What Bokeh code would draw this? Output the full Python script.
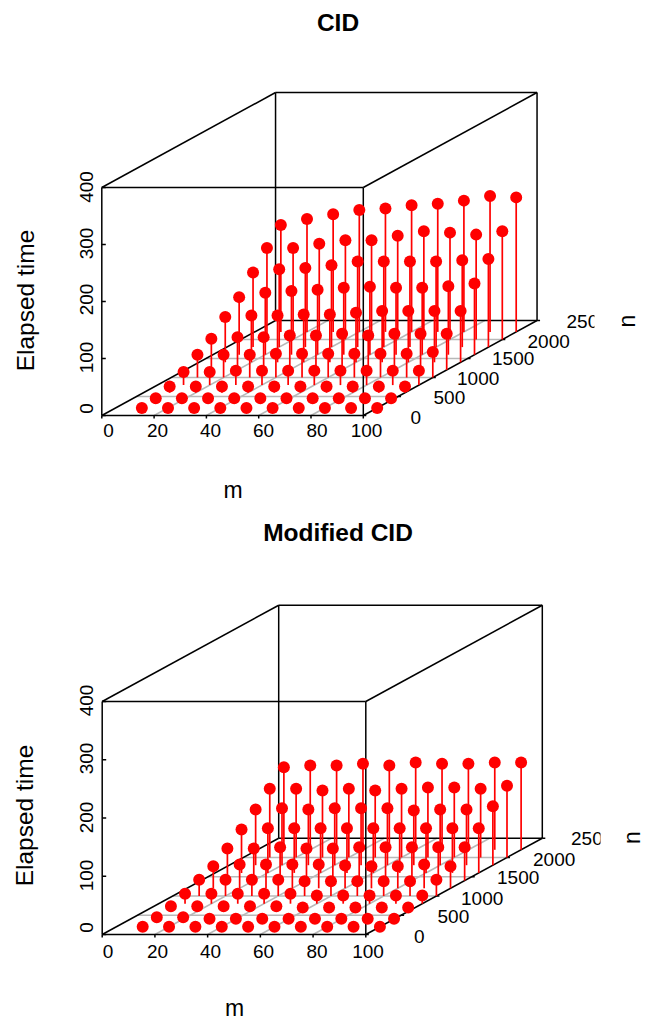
import math
from bokeh.plotting import figure
from bokeh.embed import file_html
from bokeh.resources import INLINE
from bokeh.core.properties import value

m_values = [10, 20, 30, 40, 50, 60, 70, 80, 90, 100]
n_values = [200, 400, 600, 800, 1000, 1200, 1400, 1600, 1800, 2000, 2200]

cid_n0200 = [0, 0, 0, 0, 0, 0, 0, 0, 0, 0]
cid_n0400 = [3.7, 3.7, 3.7, 3.7, 3.7, 3.7, 3.7, 3.7, 3.7, 3.7]
cid_n0600 = [11, 11, 11, 11, 11, 11, 11, 11, 11, 11]
cid_n0800 = [22.8, 22.8, 25, 25, 25, 25, 25, 25, 25, 25]
cid_n1000 = [40, 40, 40, 41.7, 41.7, 41.7, 41.7, 41.7, 41.7, 44.6]
cid_n1200 = [54.7, 57.5, 57.5, 60.5, 60.5, 63.4, 60.5, 63.4, 63.4, 63.4]
cid_n1400 = [79.3, 82, 82, 84, 84, 87, 90, 90, 90, 90]
cid_n1600 = [101, 108.8, 111.6, 114, 117.5, 119.3, 117.5, 117.5, 120, 124.8]
cid_n1800 = [130.7, 136.5, 138.8, 143.5, 150, 150, 150, 150, 152.3, 154.6]
cid_n2000 = [160.5, 160.5, 168, 174, 174, 182, 190, 187.5, 184, 190]
cid_n2200 = [187.5, 198, 206.3, 213.9, 216.3, 222, 225, 230.3, 238.4, 236]

mod_n0200 = [0, 0, 0, 0, 0, 0, 0, 0, 0, 0]
mod_n0400 = [3.3, 3.3, 0.5, 0.5, 0.5, 0.5, 0.5, 0.5, 0.5, 0.5]
mod_n0600 = [9, 9, 9, 9, 9, 6.7, 6.7, 6.7, 6.7, 6.7]
mod_n0800 = [17, 17, 17, 17, 17, 14.2, 14.2, 14.2, 14.2, 14.2]
mod_n1000 = [27.8, 27.8, 27.8, 27.8, 25.4, 25.4, 25.4, 25.4, 25.4, 27.8]
mod_n1200 = [38, 40.9, 40.9, 40.9, 40.9, 39, 38, 38, 40.9, 38]
mod_n1400 = [55, 55, 57.3, 55, 55, 57.3, 57.3, 57.3, 57.3, 57.3]
mod_n1600 = [74.5, 76.8, 76.8, 76.8, 76.8, 76.8, 76.8, 76.8, 76.8, 76.8]
mod_n1800 = [95.6, 97.9, 95.6, 97.9, 97.9, 97.9, 93.9, 95.6, 95.6, 101.3]
mod_n2000 = [117.9, 117.9, 115, 117.9, 115, 117.9, 120.2, 120.2, 117.9, 123]
mod_n2200 = [141.8, 144.7, 144.7, 147.6, 144.7, 149.9, 147.6, 147.6, 149.9, 149.9]

cid_rows = [cid_n0200, cid_n0400, cid_n0600, cid_n0800, cid_n1000, cid_n1200,
            cid_n1400, cid_n1600, cid_n1800, cid_n2000, cid_n2200]
mod_rows = [mod_n0200, mod_n0400, mod_n0600, mod_n0800, mod_n1000, mod_n1200,
            mod_n1400, mod_n1600, mod_n1800, mod_n2000, mod_n2200]

m_ticks = [0, 20, 40, 60, 80, 100]
n_ticks = [0, 500, 1000, 1500, 2000, 2500]
z_ticks = [0, 100, 200, 300, 400]
M_MAX, N_MAX, Z_MAX = 100, 2500, 400

FONT = "Liberation Sans"
RED = "#ff0000"
GRID = "#b8b8b8"
BLACK = "#000000"

W, H = 651, 1021
p = figure(width=W, height=H, x_range=(0, W), y_range=(H, 0),
           output_backend="svg", toolbar_location=None, min_border=0)
p.axis.visible = False
p.grid.visible = False
p.outline_line_color = None


def label(x, y, text, size, vertical=False, bold=False, align="center"):
    # x, y give the baseline of the text
    shift = 0.37 * size
    if vertical:
        x -= shift
    else:
        y -= shift
    p.text([x], [y], text=[text], text_font=value(FONT), text_font_size=f"{size}px",
           text_color=BLACK, angle=math.pi / 2 if vertical else 0.0,
           text_align=align, text_baseline="alphabetic",
           text_font_style="bold" if bold else "normal")


def panel(rows, title, title_y, ox, oy, mx, nx, ny, zy,
          m_lab_x, m_lab_y, z_lab_y, n_lab, xlab_pos, ylab_pos, nlab_pos, clip_x):
    def px(m, n, z=0):
        return ox + m * mx + n * nx

    def py(m, n, z=0):
        return oy - n * ny - z * zy

    def seg(a, b, color, width=1.5):
        p.line([px(*a), px(*b)], [py(*a), py(*b)], line_color=color, line_width=width)

    # floor grid
    for m in m_ticks[1:-1]:
        seg((m, 0, 0), (m, N_MAX, 0), GRID)
    for n in n_ticks[1:-1]:
        seg((0, n, 0), (M_MAX, n, 0), GRID)

    # edges of the box
    for a, b in [((0, N_MAX, 0), (M_MAX, N_MAX, 0)),
                 ((0, N_MAX, 0), (0, N_MAX, Z_MAX)),
                 ((M_MAX, N_MAX, 0), (M_MAX, N_MAX, Z_MAX)),
                 ((0, N_MAX, Z_MAX), (M_MAX, N_MAX, Z_MAX)),
                 ((0, 0, 0), (0, N_MAX, 0)),
                 ((0, 0, Z_MAX), (0, N_MAX, Z_MAX)),
                 ((M_MAX, 0, Z_MAX), (M_MAX, N_MAX, Z_MAX)),
                 ((M_MAX, 0, 0), (M_MAX, N_MAX, 0)),
                 ((0, 0, 0), (M_MAX, 0, 0)),
                 ((0, 0, 0), (0, 0, Z_MAX)),
                 ((M_MAX, 0, 0), (M_MAX, 0, Z_MAX)),
                 ((0, 0, Z_MAX), (M_MAX, 0, Z_MAX))]:
        seg(a, b, BLACK)

    # tick marks
    for m in m_ticks:
        p.line([px(m, 0), px(m, 0)], [py(m, 0), py(m, 0) + 3], line_color=BLACK, line_width=1.5)
    for z in z_ticks:
        p.line([px(0, 0), px(0, 0) + 4], [py(0, 0, z), py(0, 0, z)], line_color=BLACK, line_width=1.5)
    for n in n_ticks:
        p.line([px(M_MAX, n), px(M_MAX, n) + 3], [py(M_MAX, n), py(M_MAX, n)], line_color=BLACK, line_width=1.5)

    # stems and points
    xs, ys, sx, sy = [], [], [], []
    for n, row in zip(n_values, rows):
        for m, z in zip(m_values, row):
            xs.append(px(m, n))
            ys.append(py(m, n, z))
            sx.append([px(m, n), px(m, n)])
            sy.append([py(m, n, z), py(m, n)])
    p.multi_line(sx, sy, line_color=RED, line_width=1.7)
    p.scatter(xs, ys, size=12, marker="circle", fill_color=RED, line_color=RED, line_width=0)

    # texts
    label(337.5, title_y, title, 24.5, bold=True)
    for t, x in zip(m_ticks, m_lab_x):
        label(x, m_lab_y, str(t), 19)
    for t, y in zip(z_ticks, z_lab_y):
        label(92.7, y, str(t), 19, vertical=True)
    for t, (x, y) in zip(n_ticks, n_lab):
        label(x, y, str(t), 19, align="left")
    label(xlab_pos[0], xlab_pos[1], "m", 23)
    label(ylab_pos[0], ylab_pos[1], "Elapsed time", 24.5, vertical=True)
    label(nlab_pos[0], nlab_pos[1], "n", 23, vertical=True)
    # the last digit of the back n label is cut off in the reference
    p.quad(left=[clip_x], right=[clip_x + 16], top=[py(0, 0) - 108], bottom=[py(0, 0) - 84],
           fill_color="#ffffff", line_color=None)


panel(cid_rows, "CID", 31, 101.3, 415, 2.615, 0.0695, 0.038, 0.57,
      m_lab_x=[108, 157, 210, 263, 316.5, 366],
      m_lab_y=437.5,
      z_lab_y=[408, 357, 299, 243, 186.5],
      n_lab=[(410, 424.5), (433, 404.5), (456.5, 385.5), (491.5, 365.5), (527, 348), (566, 328.5)],
      xlab_pos=(232.5, 498), ylab_pos=(34, 300), nlab_pos=(635, 320.5), clip_x=594)

panel(mod_rows, "Modified CID", 541, 101.7, 934, 2.636, 0.0706, 0.0385, 0.5825,
      m_lab_x=[107.5, 157, 210, 263, 316.5, 367.5],
      m_lab_y=958.5,
      z_lab_y=[927, 875, 817, 758, 700],
      n_lab=[(413.5, 943.5), (437, 923.5), (460.5, 905), (496.5, 884.5), (532.5, 866), (570.5, 845.5)],
      xlab_pos=(234, 1016), ylab_pos=(33, 815), nlab_pos=(640, 837), clip_x=600)

open("out.html", "w").write(file_html(p, INLINE))
